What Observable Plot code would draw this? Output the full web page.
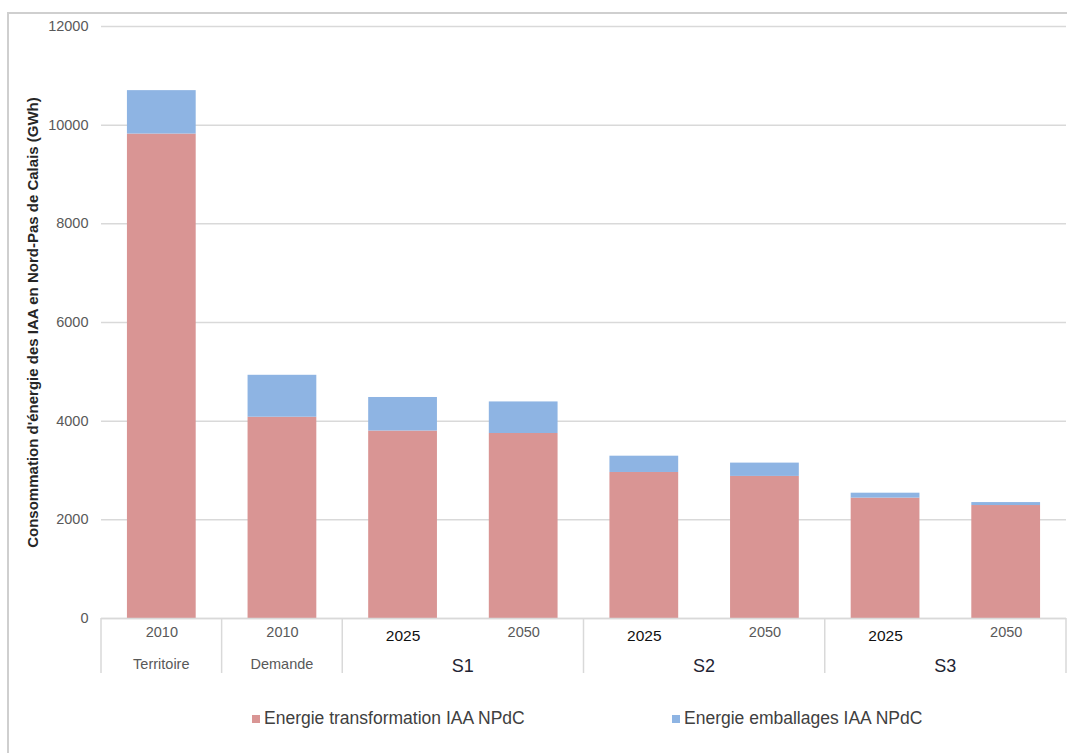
<!DOCTYPE html>
<html>
<head>
<meta charset="utf-8">
<script src="https://cdn.jsdelivr.net/npm/d3@7"></script>
<script src="https://cdn.jsdelivr.net/npm/@observablehq/plot@0.6"></script>
<style>
  html, body { margin: 0; padding: 0; background: #fff; overflow: hidden; }
  #wrap { position: relative; width: 1067px; height: 753px; overflow: hidden; font-family: "Liberation Sans", Arial, sans-serif; }
  #frame { position: absolute; left: 7px; top: 12px; width: 1080px; height: 780px; border: 2px solid #cfcfcf; box-sizing: border-box; pointer-events: none; }
  #chart { position: absolute; left: 0; top: 0; width: 1067px; }
  .leg { position: absolute; top: 708px; display: flex; align-items: center; font-size: 17.5px; color: #404040; white-space: nowrap; }
  .leg .sw { width: 8px; height: 8px; margin-right: 4px; }
</style>
</head>
<body>
<div id="wrap">
  <div id="frame"></div>
  <div id="chart"></div>
</div>
<script>
// ---- data ----
const categories = ["2010 Territoire", "2010 Demande", "S1 2025", "S1 2050", "S2 2025", "S2 2050", "S3 2025", "S3 2050"];
const years = ["2010", "2010", "2025", "2050", "2025", "2050", "2025", "2050"];
const groups = ["Territoire", "Demande", "S1", "S1", "S2", "S2", "S3", "S3"];
const seriesNames = ["Energie transformation IAA NPdC", "Energie emballages IAA NPdC"];
const transformation = [9820, 4080, 3800, 3750, 2960, 2880, 2440, 2290];
const emballages = [880, 850, 680, 640, 330, 270, 100, 60];
const yTicks = [0, 2000, 4000, 6000, 8000, 10000, 12000];
const yTitle = "Consommation d'énergie des IAA en Nord-Pas de Calais (GWh)";
const colors = ["#d99594", "#8eb4e3"];

// ---- build rows ----
const rows = [];
categories.forEach((c, i) => {
  rows.push({cat: c, series: seriesNames[0], value: transformation[i]});
  rows.push({cat: c, series: seriesNames[1], value: emballages[i]});
});
const yearRows = categories.map((c, i) => ({cat: c, year: years[i]}));
const groupSpans = [];
groups.forEach((g, i) => {
  const last = groupSpans[groupSpans.length - 1];
  if (last && last.name === g) last.cats.push(categories[i]);
  else groupSpans.push({name: g, cats: [categories[i]]});
});

const plot = Plot.plot({
  width: 1067,
  height: 690,
  marginLeft: 101,
  marginRight: 1,
  marginTop: 26,
  marginBottom: 72,
  style: {fontFamily: "'Liberation Sans', Arial, sans-serif", background: "transparent", overflow: "visible"},
  x: {domain: categories, paddingInner: 0.43, paddingOuter: 0.215, round: false, axis: null},
  y: {domain: [0, 12000], axis: null},
  color: {domain: seriesNames, range: colors},
  marks: [
    Plot.gridY(yTicks, {stroke: "#d9d9d9", strokeOpacity: 1, strokeWidth: 1.5}),
    Plot.axisY(yTicks, {tickSize: 0, tickPadding: 13, tickFormat: d3.format("d"), fontSize: 14.5, fill: "#595959", label: null}),
    Plot.barY(rows, {x: "cat", y: "value", fill: "series"}),
    Plot.ruleY([0], {stroke: "#d9d9d9", strokeWidth: 1.5}),
    Plot.text(yearRows.filter(d => d.year !== "2025"), {x: "cat", frameAnchor: "bottom", text: "year", dy: 18, fontSize: 14.5, fill: "#595959"}),
    Plot.text(yearRows.filter(d => d.year === "2025"), {x: "cat", frameAnchor: "bottom", text: "year", dy: 22, fontSize: 15.5, fill: "#111"}),
    Plot.text([yTitle], {frameAnchor: "left", textAnchor: "middle", text: d => d, rotate: -90, dx: -68, fontSize: 15, fontWeight: "bold", fill: "#262626"})
  ]
});
document.getElementById("chart").appendChild(plot);

// ---- multi-level category axis (positions from the Plot x scale) ----
const xs = plot.scale("x");
const ys = plot.scale("y");
const step = xs.step, bw = xs.bandwidth, gap = (step - bw) / 2;
const y0 = ys.apply(0);
const svg = d3.select(plot);
const g = svg.append("g");
const bounds = groupSpans.map(s => xs.apply(s.cats[0]) - gap);
const lastSpan = groupSpans[groupSpans.length - 1];
bounds.push(xs.apply(lastSpan.cats[lastSpan.cats.length - 1]) + bw + gap);
g.selectAll("line").data(bounds).join("line")
  .attr("x1", d => d).attr("x2", d => d)
  .attr("y1", y0).attr("y2", y0 + 55)
  .attr("stroke", "#d9d9d9").attr("stroke-width", 1.5);
g.selectAll("text").data(groupSpans).join("text")
  .attr("x", s => (xs.apply(s.cats[0]) + xs.apply(s.cats[s.cats.length - 1]) + bw) / 2)
  .attr("y", s => y0 + (s.cats.length > 1 ? 48 : 46))
  .attr("dy", "0.35em")
  .attr("text-anchor", "middle")
  .attr("font-size", s => s.cats.length > 1 ? 18 : 14.5)
  .attr("fill", s => s.cats.length > 1 ? "#1f2433" : "#595959")
  .text(s => s.name);

// ---- legend ----
const wrap = document.getElementById("wrap");
const legLeft = [252, 672];
seriesNames.forEach((name, i) => {
  const item = document.createElement("div");
  item.className = "leg";
  item.style.left = legLeft[i] + "px";
  item.innerHTML = `<span class="sw" style="background:${colors[i]}"></span><span>${name}</span>`;
  wrap.appendChild(item);
});
</script>
</body>
</html>
